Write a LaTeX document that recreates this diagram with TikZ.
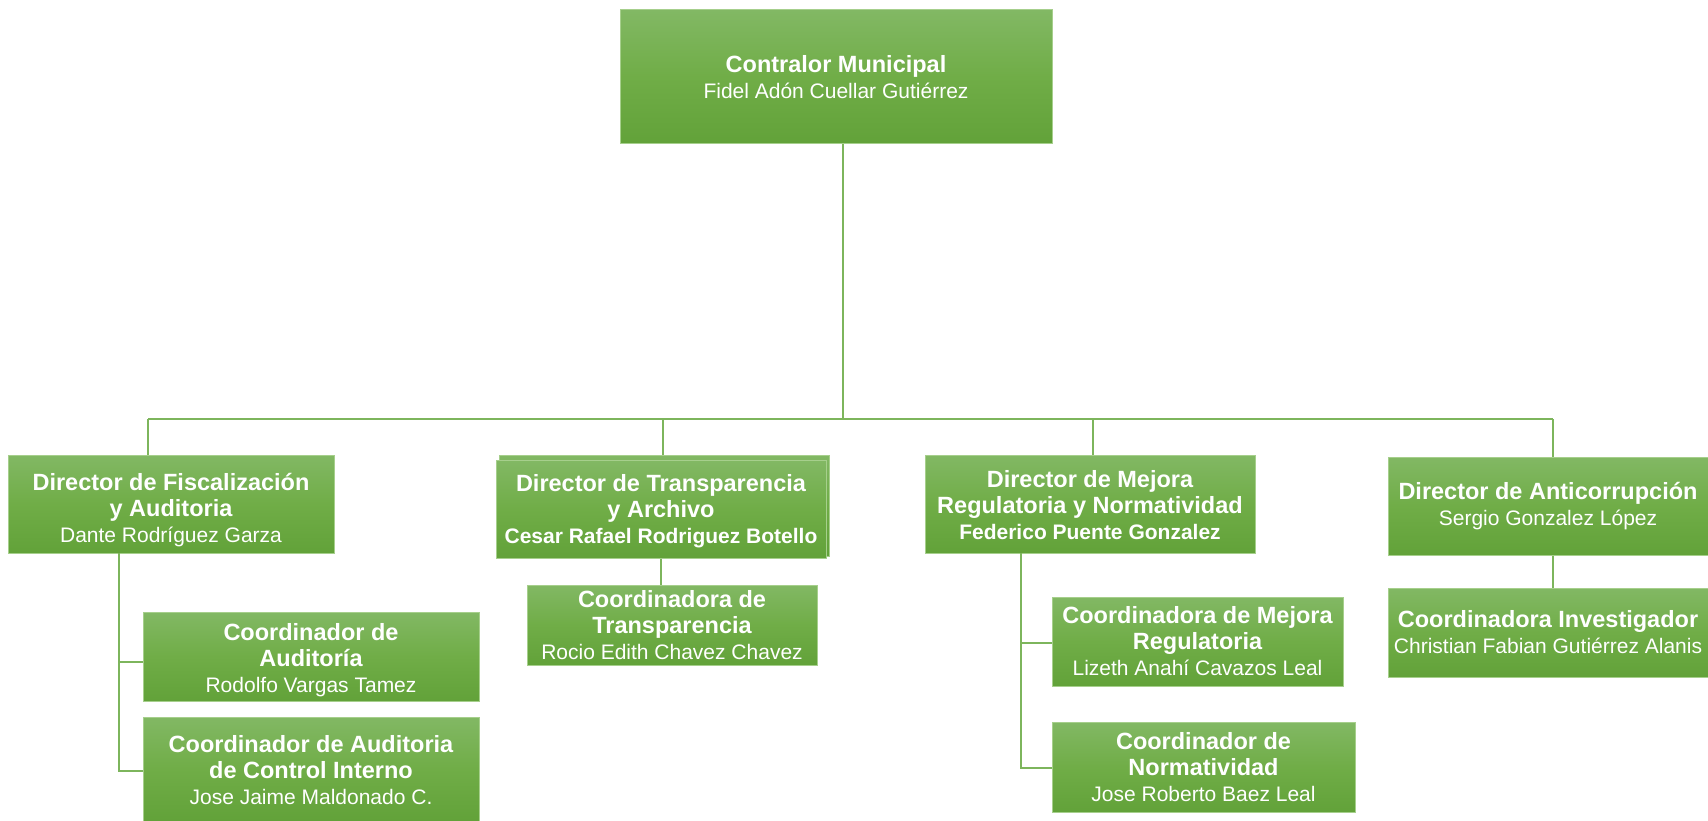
\documentclass[tikz,border=0pt]{standalone}
\usepackage{fontspec}
\setmainfont{Liberation Sans}
\definecolor{gtop}{HTML}{82B864}
\definecolor{gmid}{HTML}{70AD47}
\definecolor{gbot}{HTML}{62A239}
\definecolor{boxedge}{HTML}{A6CF8C}
\definecolor{conn}{HTML}{7DB55C}
\newcommand\boxtitle[1]{{\fontsize{23.5}{26}\selectfont\bfseries #1}}
\newcommand\boxname[1]{{\fontsize{21}{26}\selectfont\bfseries #1}}
\newcommand\liftby[1]{\rule{0pt}{#1}}
\tikzset{
  orgbox/.style={draw=boxedge, line width=1pt, top color=gtop, bottom color=gbot, middle color=gmid,
    inner sep=0pt, align=center, text=white, font=\fontsize{21}{26}\selectfont},
  link/.style={draw=conn, line width=1.5pt}
}
\begin{document}
\begin{tikzpicture}[x=1pt,y=-1pt]
\useasboundingbox (0,0) rectangle (1708,821);
% top
\node[orgbox, minimum width=432pt, minimum height=134pt] (top) at (836,77)
  {\boxtitle{Contralor Municipal}\\ Fidel Adón Cuellar Gutiérrez};
% directors
\node[orgbox, minimum width=326pt, minimum height=98pt] (d1) at (171,504)
  {\boxtitle{\liftby{30pt}Director de Fiscalización}\\ \boxtitle{y Auditoria}\\ Dante Rodríguez Garza};
\node[orgbox, minimum width=330pt, minimum height=101pt] (d2b) at (664,505.5) {};
\node[orgbox, minimum width=330pt, minimum height=98pt] (d2) at (661,509)
  {\boxtitle{\liftby{22pt}Director de Transparencia}\\ \boxtitle{y Archivo}\\ \boxname{Cesar Rafael Rodriguez Botello}};
\node[orgbox, minimum width=330pt, minimum height=98pt] (d3) at (1090,504)
  {\boxtitle{\liftby{20pt}Director de Mejora}\\ \boxtitle{Regulatoria y Normatividad}\\ \boxname{Federico Puente Gonzalez}};
\node[orgbox, minimum width=320pt, minimum height=98pt] (d4) at (1548,506)
  {\boxtitle{Director de Anticorrupción}\\ Sergio Gonzalez López};
% coordinators
\node[orgbox, minimum width=336pt, minimum height=89pt] (c1) at (311,656.5)
  {\boxtitle{\liftby{24pt}Coordinador de}\\ \boxtitle{Auditoría}\\ Rodolfo Vargas Tamez};
\node[orgbox, minimum width=336pt, minimum height=104pt] (c2) at (311,769)
  {\boxtitle{\liftby{20pt}Coordinador de Auditoria}\\ \boxtitle{de Control Interno}\\ Jose Jaime Maldonado C.};
\node[orgbox, minimum width=290pt, minimum height=80pt] (ct) at (672,625)
  {\boxtitle{Coordinadora de}\\ \boxtitle{Transparencia}\\ Rocio Edith Chavez Chavez};
\node[orgbox, minimum width=291pt, minimum height=89pt] (cm) at (1197.5,641.5)
  {\boxtitle{Coordinadora de Mejora}\\ \boxtitle{Regulatoria}\\ Lizeth Anahí Cavazos Leal};
\node[orgbox, minimum width=303pt, minimum height=90pt] (cn) at (1203.5,767)
  {\boxtitle{Coordinador de}\\ \boxtitle{Normatividad}\\ Jose Roberto Baez Leal};
\node[orgbox, minimum width=320pt, minimum height=89pt] (ci) at (1548,632.5)
  {\boxtitle{Coordinadora Investigador}\\ Christian Fabian Gutiérrez Alanis};
% bus
\coordinate (bus) at (843,419);
\coordinate (b1) at (148,419);
\coordinate (b2) at (663,419);
\coordinate (b3) at (1093,419);
\coordinate (b4) at (1553,419);
\draw[link] (top.south -| bus) -- (bus);
\draw[link] (b1) -- (b4);
\draw[link] (b1) -- (b1 |- d1.north);
\draw[link] (b2) -- (b2 |- d2b.north);
\draw[link] (b3) -- (b3 |- d3.north);
\draw[link] (b4) -- (b4 |- d4.north);
% subordinates
\coordinate (s1) at (119,553);
\draw[link] (s1) |- ([yshift=-5.5pt]c1.west);
\draw[link] (s1) |- ([yshift=-2pt]c2.west);
\draw[link] (d2.south) -- (d2.south |- ct.north);
\coordinate (s3) at (1021,553);
\draw[link] (s3) |- ([yshift=-1.5pt]cm.west);
\draw[link] (s3) |- ([yshift=-1pt]cn.west);
\draw[link] (d4.south -| b4) -- (ci.north -| b4);
\end{tikzpicture}
\end{document}
